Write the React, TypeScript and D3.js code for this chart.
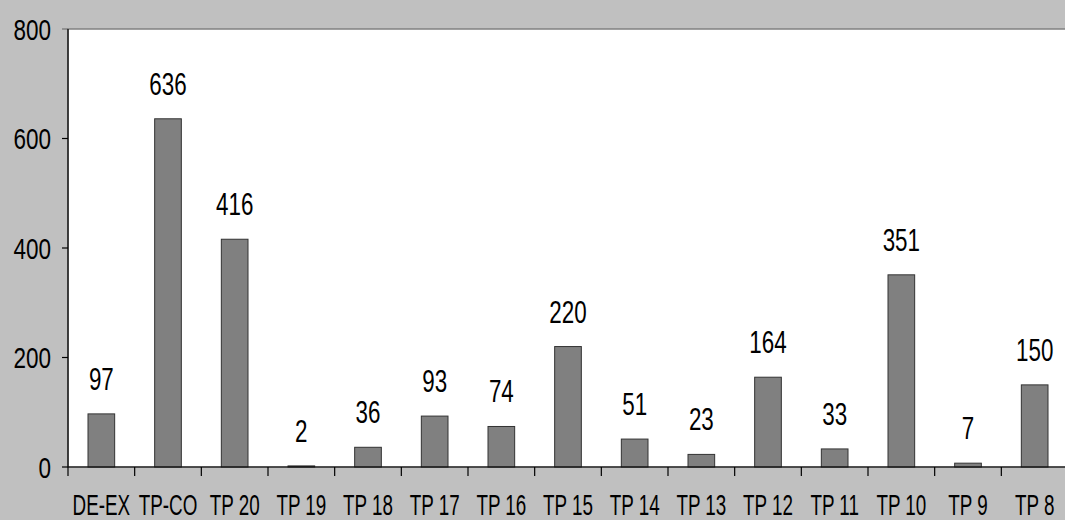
import React from "react";
import * as d3 from "d3";

const categories = ["DE-EX", "TP-CO", "TP 20", "TP 19", "TP 18", "TP 17", "TP 16", "TP 15", "TP 14", "TP 13", "TP 12", "TP 11", "TP 10", "TP 9", "TP 8"];
const values = [97, 636, 416, 2, 36, 93, 74, 220, 51, 23, 164, 33, 351, 7, 150];
const yTicks = [0, 200, 400, 600, 800];

const W = 1065;
const H = 520;
const left = 68;
const right = 1068;
const top = 29;
const bottom = 467;
const FONT = "'Liberation Sans', Arial, sans-serif";

function NText({ x, y, anchor, size, sx, dy, children }: { x: number; y: number; anchor: string; size: number; sx: number; dy?: string; children: React.ReactNode }) {
  return (
    <g transform={`translate(${x},${y}) scale(${sx},1)`}>
      <text x={0} y={0} dy={dy} textAnchor={anchor as any} fontFamily={FONT} fontSize={size} fill="#000">{children}</text>
    </g>
  );
}

export default function App() {
  const x = d3.scaleBand<string>().domain(categories).range([left, right]).padding(0);
  const y = d3.scaleLinear().domain([0, 800]).range([bottom, top]);
  const bw = x.bandwidth() * 0.4;
  const boundaries = categories.map((c) => x(c) as number).concat([right]);

  return (
    <svg width={W} height={H} style={{ position: "absolute", left: 0, top: 0 }}>
      <rect x={0} y={0} width={W} height={H} fill="#c0c0c0" />
      <rect x={left} y={top} width={right - left} height={bottom - top} fill="#ffffff" stroke="#808080" strokeWidth={1.5} />
      <line x1={left - 6} x2={left} y1={top} y2={top} stroke="#808080" strokeWidth={1.5} />
      {values.map((v, i) => {
        const cx = (x(categories[i]) as number) + x.bandwidth() / 2;
        return (
          <g key={categories[i]}>
            <rect x={cx - bw / 2} y={y(v)} width={bw} height={bottom - y(v)} fill="#808080" stroke="#333333" strokeWidth={1} />
            <NText x={cx} y={y(v) - 24} anchor="middle" size={32} sx={0.7}>{v}</NText>
          </g>
        );
      })}
      <line x1={left} x2={left} y1={top} y2={bottom} stroke="#000" strokeWidth={1.2} />
      <line x1={left} x2={right} y1={bottom} y2={bottom} stroke="#000" strokeWidth={1.2} />
      {yTicks.map((t) => (
        <g key={t}>
          {t !== 800 && <line x1={left - 6} x2={left} y1={y(t)} y2={y(t)} stroke="#000" strokeWidth={1.2} />}
          <NText x={51} y={y(t)} dy="0.36em" anchor="end" size={30} sx={0.75}>{t}</NText>
        </g>
      ))}
      {boundaries.map((b, i) => (
        <line key={i} x1={b} x2={b} y1={bottom} y2={bottom + 9} stroke="#000" strokeWidth={1.2} />
      ))}
      {categories.map((c) => (
        <NText key={c} x={(x(c) as number) + x.bandwidth() / 2} y={515} anchor="middle" size={29} sx={0.65}>{c}</NText>
      ))}
    </svg>
  );
}
